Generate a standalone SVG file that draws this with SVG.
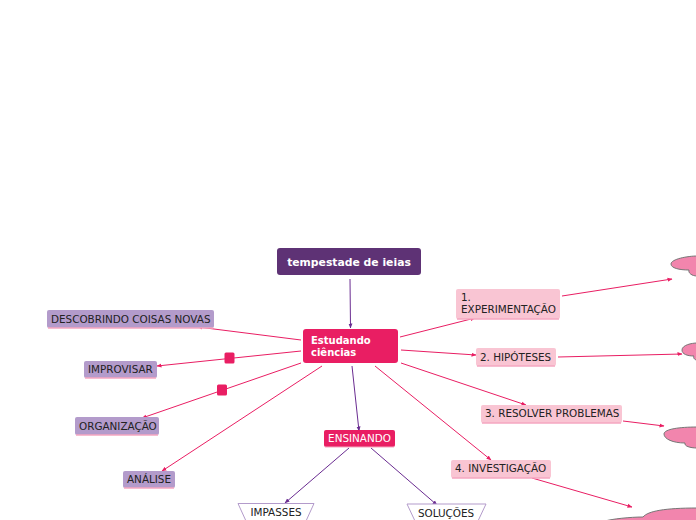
<svg xmlns="http://www.w3.org/2000/svg" width="696" height="520" viewBox="0 0 696 520">
<defs>
<marker id="ap" viewBox="0 0 10 10" refX="9" refY="5" markerWidth="5" markerHeight="5" orient="auto"><path d="M0,1 L10,5 L0,9 Z" fill="#e91e63"/></marker>
<marker id="av" viewBox="0 0 10 10" refX="9" refY="5" markerWidth="5" markerHeight="5" orient="auto"><path d="M0,1 L10,5 L0,9 Z" fill="#6a2c91"/></marker>
<style>
text{font-family:"DejaVu Sans","Liberation Sans",sans-serif;font-size:10.4px;fill:#222}
.w{fill:#fff;font-weight:bold;font-size:10.8px}
.w2{fill:#fff;font-weight:bold;font-size:10px}
.lav{fill:#b39bcb}
.pk{fill:#f9c5d3}
.ul{stroke:#f4a6c0;stroke-width:1.5}
.cp{stroke:#e91e63;stroke-width:1;fill:none;marker-end:url(#ap)}
.cv{stroke:#6a2c91;stroke-width:1;fill:none;marker-end:url(#av)}
.cloud{fill:#f285ad;stroke:#777;stroke-width:1}
.trap{fill:#fff;stroke:#b39bcb;stroke-width:1}
</style>
</defs>
<g id="connectors">
<line class="cv" x1="350" y1="279" x2="350.5" y2="328"/>
<line class="cp" x1="301" y1="340" x2="198" y2="327"/>
<line class="cp" x1="301" y1="351" x2="157" y2="366"/>
<rect x="224.5" y="352.5" width="10" height="11" rx="1.5" fill="#e91e63"/>
<line class="cp" x1="301" y1="363" x2="142" y2="418"/>
<rect x="217" y="384.5" width="10" height="11" rx="1.5" fill="#e91e63"/>
<line class="cp" x1="322" y1="366" x2="162" y2="471"/>
<line class="cv" x1="352" y1="366" x2="359" y2="431"/>
<line class="cp" x1="400" y1="337" x2="475" y2="318"/>
<line class="cp" x1="401" y1="350" x2="476" y2="355"/>
<line class="cp" x1="401" y1="363" x2="526" y2="405"/>
<line class="cp" x1="375" y1="366" x2="491" y2="460"/>
<line class="cp" x1="562" y1="296" x2="672" y2="279"/>
<line class="cp" x1="558" y1="357" x2="682" y2="354"/>
<line class="cp" x1="623" y1="421" x2="664" y2="426"/>
<line class="cp" x1="532" y1="478" x2="632" y2="507"/>
<line class="cv" x1="349" y1="448" x2="285" y2="503"/>
<line class="cv" x1="371" y1="448" x2="437" y2="505"/>
</g>
<g id="root">
<rect x="277" y="248" width="144" height="27" rx="3" fill="#5e3275"/>
<text class="w" x="349" y="266" text-anchor="middle">tempestade de ieias</text>
</g>
<g id="estudando">
<rect x="303" y="329" width="95" height="34" rx="3" fill="#e91e63"/>
<text class="w2" x="311" y="344">Estudando</text>
<text class="w2" x="311" y="356">ciências</text>
</g>
<g id="descobrindo">
<rect class="lav" x="47" y="310" width="167" height="18" rx="2"/>
<line class="ul" x1="48" y1="328" x2="213" y2="328"/>
<text x="51" y="323">DESCOBRINDO COISAS NOVAS</text>
</g>
<g id="improvisar">
<rect class="lav" x="84" y="361" width="73" height="17" rx="2"/>
<line class="ul" x1="85" y1="378" x2="156" y2="378"/>
<text x="88" y="373">IMPROVISAR</text>
</g>
<g id="organizacao">
<rect class="lav" x="75" y="417" width="84" height="18" rx="2"/>
<line class="ul" x1="76" y1="435" x2="158" y2="435"/>
<text x="79" y="430">ORGANIZAÇÃO</text>
</g>
<g id="analise">
<rect class="lav" x="123" y="471" width="52" height="17" rx="2"/>
<line class="ul" x1="124" y1="488" x2="174" y2="488"/>
<text x="127" y="483">ANÁLISE</text>
</g>
<g id="experimentacao">
<rect class="pk" x="456" y="289" width="104" height="30" rx="2"/>
<line class="ul" x1="457" y1="319" x2="559" y2="319"/>
<text x="461" y="301">1.</text>
<text x="461" y="313">EXPERIMENTAÇÃO</text>
</g>
<g id="hipoteses">
<rect class="pk" x="476" y="348" width="80" height="18" rx="2"/>
<line class="ul" x1="477" y1="366" x2="555" y2="366"/>
<text x="480" y="361">2. HIPÓTESES</text>
</g>
<g id="resolver">
<rect class="pk" x="481" y="405" width="141" height="18" rx="2"/>
<line class="ul" x1="482" y1="423" x2="621" y2="423"/>
<text x="485" y="417">3. RESOLVER PROBLEMAS</text>
</g>
<g id="investigacao">
<rect class="pk" x="451" y="460" width="100" height="18" rx="2"/>
<line class="ul" x1="452" y1="478" x2="550" y2="478"/>
<text x="455" y="472">4. INVESTIGAÇÃO</text>
</g>
<g id="ensinando">
<rect x="324" y="430" width="71" height="17" rx="2" fill="#e91e63"/>
<line x1="325" y1="447" x2="394" y2="447" stroke="#f4a6c0" stroke-width="1"/>
<text x="359.5" y="442" text-anchor="middle" style="fill:#fff">ENSINANDO</text>
</g>
<g id="impasses">
<path class="trap" d="M238,503.5 L314,503.5 L306,521 L246,521 Z"/>
<text x="276" y="516" text-anchor="middle">IMPASSES</text>
</g>
<g id="solucoes">
<path class="trap" d="M407,504 L486,504 L478,521 L415,521 Z"/>
<text x="446" y="517" text-anchor="middle">SOLUÇÕES</text>
</g>
<g id="cloud1">
<path class="cloud" d="M671,264 C671,259 688,256 697,256 L697,276 C692,276 688,273 689,270 C679,270 671,268 671,264 Z"/>
</g>
<g id="cloud2">
<path class="cloud" d="M682,350 C682,345 692,343 697,343 L697,360 C694,360 693,357 694,356 C687,356 682,354 682,350 Z"/>
</g>
<g id="cloud3">
<path class="cloud" d="M664,434 C664,429 680,427 697,427 L697,448 C690,448 684,446 685,443 C673,443 664,439 664,434 Z"/>
</g>
<g id="cloud4">
<path class="cloud" d="M605,521 C612,519 630,517 643,517 C648,511 665,508 697,508 L697,521 Z"/>
</g>
</svg>
